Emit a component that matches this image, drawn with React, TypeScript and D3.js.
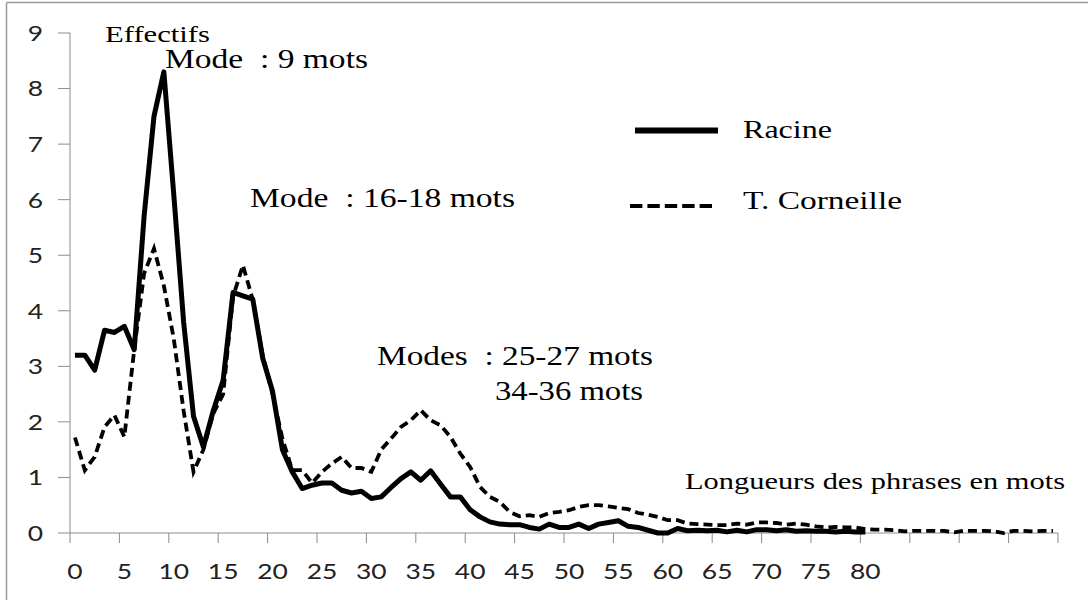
import React from 'react';
import * as d3 from 'd3';

// nombre de phrases (effectifs) par longueur en mots, 0..80 pour Racine, 0..99 pour T. Corneille
const racine = [
  3.2, 3.2, 2.93, 3.65, 3.61, 3.72, 3.3, 5.7, 7.5, 8.3,
  6.1, 3.8, 2.1, 1.55, 2.2, 2.75, 4.33, 4.27, 4.21, 3.15,
  2.55, 1.5, 1.1, 0.8, 0.86, 0.9, 0.9, 0.77, 0.72, 0.75,
  0.62, 0.65, 0.82, 0.98, 1.1, 0.95, 1.12, 0.88, 0.65, 0.65,
  0.42, 0.29, 0.2, 0.16, 0.15, 0.15, 0.1, 0.07, 0.16, 0.1,
  0.1, 0.16, 0.08, 0.16, 0.19, 0.22, 0.12, 0.1, 0.05, 0.0,
  0.0, 0.08, 0.04, 0.05, 0.04, 0.05, 0.02, 0.05, 0.02, 0.06,
  0.06, 0.04, 0.06, 0.03, 0.04, 0.03, 0.03, 0.02, 0.03, 0.02,
  0.02,
];

const corneille = [
  1.72, 1.13, 1.37, 1.91, 2.12, 1.73, 3.3, 4.67, 5.12, 4.45,
  3.5, 2.2, 1.1, 1.5, 2.15, 2.5, 4.25, 4.82, 4.2, 3.2,
  2.5, 1.7, 1.13, 1.13, 0.9, 1.1, 1.25, 1.37, 1.17, 1.17,
  1.1, 1.5, 1.7, 1.91, 2.03, 2.21, 2.03, 1.94, 1.73, 1.43,
  1.19, 0.83, 0.65, 0.56, 0.38, 0.3, 0.32, 0.29, 0.36, 0.38,
  0.41, 0.47, 0.5, 0.5, 0.48, 0.45, 0.43, 0.36, 0.33, 0.29,
  0.23, 0.23, 0.17, 0.16, 0.15, 0.14, 0.14, 0.17, 0.15, 0.19,
  0.19, 0.18, 0.15, 0.17, 0.15, 0.12, 0.1, 0.11, 0.1, 0.1,
  0.07, 0.06, 0.06, 0.05, 0.03, 0.04, 0.04, 0.04, 0.04, 0.01,
  0.04, 0.04, 0.04, 0.03, 0.0, 0.04, 0.04, 0.03, 0.04, 0.04,
];

const categories = d3.range(100);
const xTickLabels = ['0', '5', '10', '15', '20', '25', '30', '35', '40', '45', '50', '55', '60', '65', '70', '75', '80'];
const yTicks = [0, 1, 2, 3, 4, 5, 6, 7, 8, 9];

const W = 1088;
const H = 600;
const AXIS = '#8c8c8c';
const SERIF = '"Liberation Serif", "Times New Roman", serif';
const SANS = 'Lato, "Open Sans", sans-serif';

export default function App() {
  const x = d3.scaleBand<number>().domain(categories).range([70, 1058]);
  const y = d3.scaleLinear().domain([0, 9]).range([533, 33]);
  const bw = x.bandwidth();
  const cx = (i: number) => (x(i) as number) + bw / 2;

  const line = d3.line<number>()
    .x((d, i) => cx(i))
    .y(d => y(d));

  // graduations toutes les 5 catégories, plus le bord droit
  const tickPos = d3.range(0, 100, 5).map(i => x(i) as number).concat([1058]);

  return (
    <svg width={W} height={H} style={{ position: 'absolute', left: 0, top: 0, background: '#fff' }}>
      <rect x={0} y={0} width={W} height={H} fill="#fff" />
      {/* cadre */}
      <line x1={6.5} x2={W} y1={2.5} y2={2.5} stroke="#999" strokeWidth={1.5} />
      <line x1={6.5} x2={6.5} y1={2.5} y2={H} stroke="#999" strokeWidth={1.5} />

      {/* axe Y */}
      <line x1={70} x2={70} y1={y(9)} y2={y(0)} stroke={AXIS} strokeWidth={1} />
      {yTicks.map(t => (
        <g key={t}>
          <line x1={58} x2={70} y1={y(t)} y2={y(t)} stroke={AXIS} strokeWidth={1} />
          <text transform={`translate(43,${y(t)}) scale(1.2,1)`} dy="0.36em" textAnchor="end"
            fontFamily={SANS} fontSize={22} fill="#222">
            {t}
          </text>
        </g>
      ))}

      {/* axe X */}
      <line x1={70} x2={1058} y1={y(0)} y2={y(0)} stroke={AXIS} strokeWidth={1} />
      {tickPos.map((p, i) => (
        <line key={i} x1={p} x2={p} y1={y(0)} y2={y(0) + 10} stroke={AXIS} strokeWidth={1} />
      ))}
      {xTickLabels.map(l => (
        <text key={l} transform={`translate(${cx(+l)},579) scale(1.2,1)`} textAnchor="middle"
          fontFamily={SANS} fontSize={22} fill="#222">
          {l}
        </text>
      ))}

      {/* courbes */}
      <path d={line(corneille) || ''} fill="none" stroke="#000" strokeWidth={3.8} strokeDasharray="9,5" />
      <path d={line(racine) || ''} fill="none" stroke="#000" strokeWidth={5} strokeLinejoin="round" />

      {/* légende */}
      <line x1={635} x2={718} y1={130.5} y2={130.5} stroke="#000" strokeWidth={6} />
      <text x={743} y={138} fontFamily={SERIF} fontSize={26} textLength={89} lengthAdjust="spacingAndGlyphs">Racine</text>
      <line x1={630} x2={712} y1={206} y2={206} stroke="#000" strokeWidth={4} strokeDasharray="12.4,5" />
      <text x={743} y={209} fontFamily={SERIF} fontSize={26} textLength={159} lengthAdjust="spacingAndGlyphs">T. Corneille</text>

      {/* annotations */}
      <text x={105} y={42} fontFamily={SERIF} fontSize={23} textLength={105} lengthAdjust="spacingAndGlyphs">Effectifs</text>
      <text x={165} y={68} fontFamily={SERIF} fontSize={27} textLength={203} lengthAdjust="spacingAndGlyphs" xmlSpace="preserve">Mode  : 9 mots</text>
      <text x={250} y={207} fontFamily={SERIF} fontSize={27} textLength={265} lengthAdjust="spacingAndGlyphs" xmlSpace="preserve">Mode  : 16-18 mots</text>
      <text x={377} y={365} fontFamily={SERIF} fontSize={27} textLength={276} lengthAdjust="spacingAndGlyphs" xmlSpace="preserve">Modes  : 25-27 mots</text>
      <text x={495} y={400} fontFamily={SERIF} fontSize={27} textLength={148} lengthAdjust="spacingAndGlyphs">34-36 mots</text>
      <text x={685} y={489} fontFamily={SERIF} fontSize={24} textLength={380} lengthAdjust="spacingAndGlyphs">Longueurs des phrases en mots</text>
    </svg>
  );
}
